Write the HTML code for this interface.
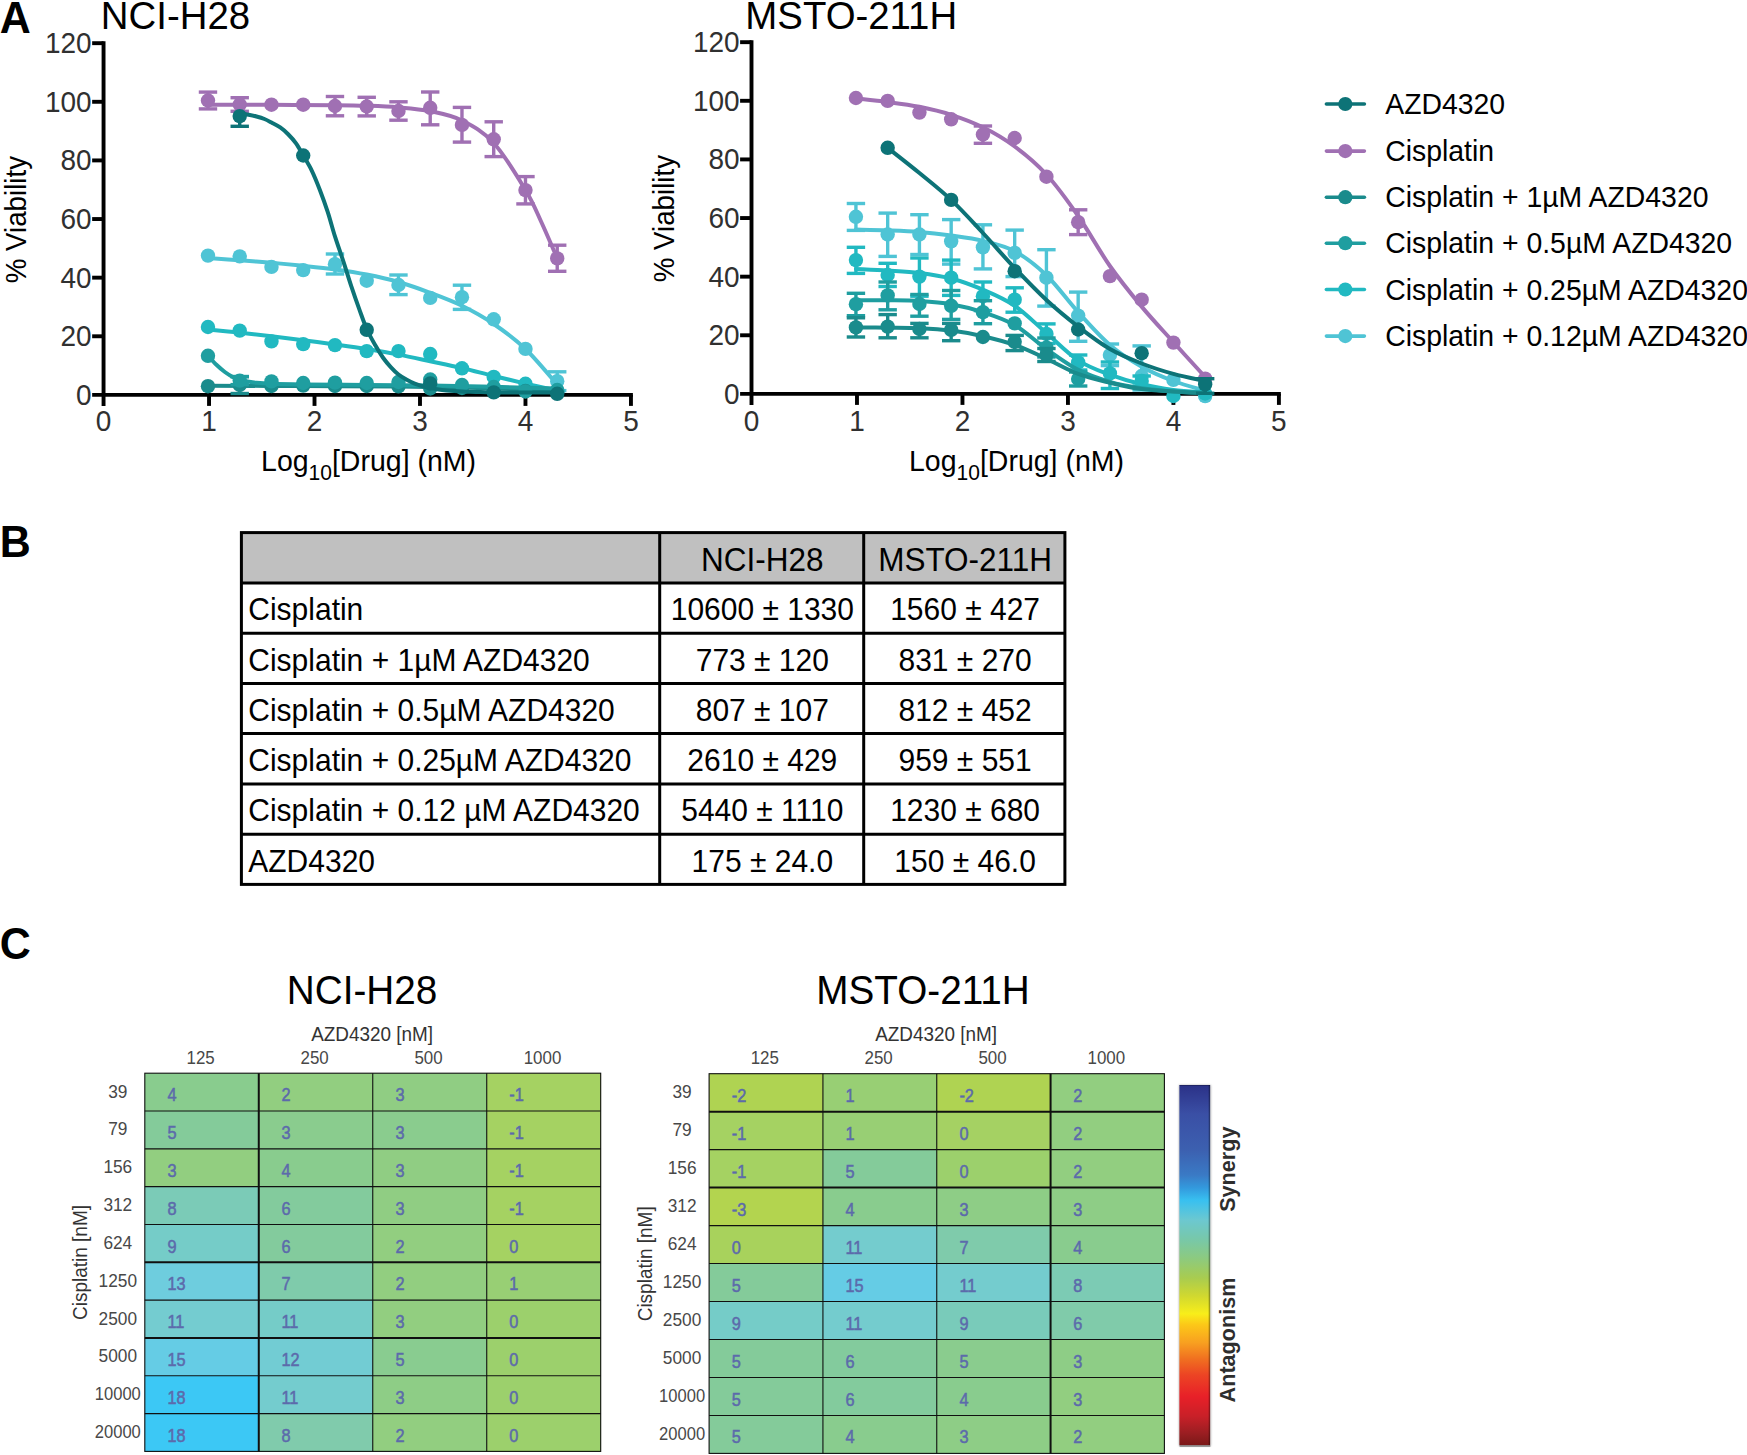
<!DOCTYPE html>
<html lang="en"><head><meta charset="utf-8"><title>Figure</title>
<style>html,body{margin:0;padding:0;background:#fff}svg{display:block}text{white-space:pre}</style>
</head><body>
<svg width="1747" height="1455" viewBox="0 0 1747 1455" font-family='"Liberation Sans", Arial, Helvetica, sans-serif'>
<rect width="1747" height="1455" fill="#fff"/>
<g font-size="43" font-weight="bold" fill="#000">
<text transform="translate(-0.2,33.0) scale(1,1.035)">A</text>
<text transform="translate(-0.3,557.2) scale(1,1.035)">B</text>
<text transform="translate(-0.2,958.6) scale(1,1.035)">C</text>
</g>
<text transform="translate(100.8,28.8) scale(1,1.035)" font-size="38.4" fill="#000">NCI-H28</text>
<g stroke="#000" stroke-width="3.9" fill="none" stroke-linecap="butt">
<path d="M103.55,41.18 V405.90"/>
<path d="M92.15,394.90 H632.90"/>
<path d="M92.15,336.28 H103.55"/>
<path d="M92.15,277.66 H103.55"/>
<path d="M92.15,219.04 H103.55"/>
<path d="M92.15,160.42 H103.55"/>
<path d="M92.15,101.80 H103.55"/>
<path d="M92.15,43.18 H103.55"/>
<path d="M209.03,394.90 V405.90"/>
<path d="M314.51,394.90 V405.90"/>
<path d="M419.99,394.90 V405.90"/>
<path d="M525.47,394.90 V405.90"/>
<path d="M630.95,394.90 V405.90"/>
</g>
<g font-size="28" fill="#303030">
<text transform="translate(91.65,404.90) scale(1,1.035)" text-anchor="end">0</text>
<text transform="translate(91.65,346.28) scale(1,1.035)" text-anchor="end">20</text>
<text transform="translate(91.65,287.66) scale(1,1.035)" text-anchor="end">40</text>
<text transform="translate(91.65,229.04) scale(1,1.035)" text-anchor="end">60</text>
<text transform="translate(91.65,170.42) scale(1,1.035)" text-anchor="end">80</text>
<text transform="translate(91.65,111.80) scale(1,1.035)" text-anchor="end">100</text>
<text transform="translate(91.65,53.18) scale(1,1.035)" text-anchor="end">120</text>
<text transform="translate(103.55,430.9) scale(1,1.035)" text-anchor="middle">0</text>
<text transform="translate(209.03,430.9) scale(1,1.035)" text-anchor="middle">1</text>
<text transform="translate(314.51,430.9) scale(1,1.035)" text-anchor="middle">2</text>
<text transform="translate(419.99,430.9) scale(1,1.035)" text-anchor="middle">3</text>
<text transform="translate(525.47,430.9) scale(1,1.035)" text-anchor="middle">4</text>
<text transform="translate(630.95,430.9) scale(1,1.035)" text-anchor="middle">5</text>
</g>
<text transform="translate(261.05,471.1) scale(1,1.035)" font-size="28.5" fill="#000">Log<tspan font-size="21" dy="8.6">10</tspan><tspan dy="-8.6">[Drug] (nM)</tspan></text>
<text transform="translate(26.0,219.64) scale(1.05,1) rotate(-90)" font-size="27.7" text-anchor="middle" fill="#000">% Viability</text>
<g stroke="#a070b3" fill="#a070b3">
<path d="M207.98,92.10 V108.90" stroke-width="3.4" fill="none"/>
<path d="M198.78,92.10 h18.4" stroke-width="3.4" fill="none"/>
<path d="M198.78,108.90 h18.4" stroke-width="3.4" fill="none"/>
<path d="M239.72,97.70 V111.30" stroke-width="3.4" fill="none"/>
<path d="M230.52,97.70 h18.4" stroke-width="3.4" fill="none"/>
<path d="M230.52,111.30 h18.4" stroke-width="3.4" fill="none"/>
<path d="M334.97,96.50 V115.80" stroke-width="3.4" fill="none"/>
<path d="M325.77,96.50 h18.4" stroke-width="3.4" fill="none"/>
<path d="M325.77,115.80 h18.4" stroke-width="3.4" fill="none"/>
<path d="M366.72,97.30 V115.90" stroke-width="3.4" fill="none"/>
<path d="M357.52,97.30 h18.4" stroke-width="3.4" fill="none"/>
<path d="M357.52,115.90 h18.4" stroke-width="3.4" fill="none"/>
<path d="M398.47,101.80 V120.20" stroke-width="3.4" fill="none"/>
<path d="M389.27,101.80 h18.4" stroke-width="3.4" fill="none"/>
<path d="M389.27,120.20 h18.4" stroke-width="3.4" fill="none"/>
<path d="M430.22,92.00 V124.80" stroke-width="3.4" fill="none"/>
<path d="M421.02,92.00 h18.4" stroke-width="3.4" fill="none"/>
<path d="M421.02,124.80 h18.4" stroke-width="3.4" fill="none"/>
<path d="M461.97,107.40 V142.10" stroke-width="3.4" fill="none"/>
<path d="M452.77,107.40 h18.4" stroke-width="3.4" fill="none"/>
<path d="M452.77,142.10 h18.4" stroke-width="3.4" fill="none"/>
<path d="M493.72,121.80 V156.60" stroke-width="3.4" fill="none"/>
<path d="M484.52,121.80 h18.4" stroke-width="3.4" fill="none"/>
<path d="M484.52,156.60 h18.4" stroke-width="3.4" fill="none"/>
<path d="M525.47,176.60 V203.90" stroke-width="3.4" fill="none"/>
<path d="M516.27,176.60 h18.4" stroke-width="3.4" fill="none"/>
<path d="M516.27,203.90 h18.4" stroke-width="3.4" fill="none"/>
<path d="M557.22,245.20 V271.30" stroke-width="3.4" fill="none"/>
<path d="M548.02,245.20 h18.4" stroke-width="3.4" fill="none"/>
<path d="M548.02,271.30 h18.4" stroke-width="3.4" fill="none"/>
<path d="M207.98,104.70 C218.56,104.72 250.31,104.72 271.47,104.80 C292.64,104.88 319.10,105.03 334.97,105.20 C350.85,105.37 356.14,105.43 366.72,105.80 C377.31,106.17 387.89,106.50 398.47,107.40 C409.06,108.30 419.64,109.02 430.22,111.20 C440.80,113.38 451.39,115.20 461.97,120.50 C472.55,125.80 483.14,131.42 493.72,143.00 C504.30,154.58 517.54,176.83 525.47,190.00 C533.40,203.17 536.00,210.60 541.29,222.00 C546.58,233.40 554.56,252.33 557.22,258.40" stroke-width="4" fill="none" stroke-linecap="round"/>
<circle cx="207.98" cy="100.50" r="7.2" stroke="none"/>
<circle cx="239.72" cy="104.50" r="7.2" stroke="none"/>
<circle cx="271.47" cy="104.70" r="7.2" stroke="none"/>
<circle cx="303.22" cy="104.70" r="7.2" stroke="none"/>
<circle cx="334.97" cy="106.00" r="7.2" stroke="none"/>
<circle cx="366.72" cy="106.50" r="7.2" stroke="none"/>
<circle cx="398.47" cy="111.00" r="7.2" stroke="none"/>
<circle cx="430.22" cy="107.80" r="7.2" stroke="none"/>
<circle cx="461.97" cy="124.90" r="7.2" stroke="none"/>
<circle cx="493.72" cy="139.30" r="7.2" stroke="none"/>
<circle cx="525.47" cy="190.10" r="7.2" stroke="none"/>
<circle cx="557.22" cy="258.40" r="7.2" stroke="none"/>
</g>
<g stroke="#4fc4d5" fill="#4fc4d5">
<path d="M334.97,254.00 V274.00" stroke-width="3.4" fill="none"/>
<path d="M325.77,254.00 h18.4" stroke-width="3.4" fill="none"/>
<path d="M325.77,274.00 h18.4" stroke-width="3.4" fill="none"/>
<path d="M398.47,275.00 V294.60" stroke-width="3.4" fill="none"/>
<path d="M389.27,275.00 h18.4" stroke-width="3.4" fill="none"/>
<path d="M389.27,294.60 h18.4" stroke-width="3.4" fill="none"/>
<path d="M461.97,285.20 V309.40" stroke-width="3.4" fill="none"/>
<path d="M452.77,285.20 h18.4" stroke-width="3.4" fill="none"/>
<path d="M452.77,309.40 h18.4" stroke-width="3.4" fill="none"/>
<path d="M557.22,371.80 V390.60" stroke-width="3.4" fill="none"/>
<path d="M548.02,371.80 h18.4" stroke-width="3.4" fill="none"/>
<path d="M548.02,390.60 h18.4" stroke-width="3.4" fill="none"/>
<path d="M207.98,258.00 C213.27,258.38 229.14,259.50 239.72,260.30 C250.31,261.10 260.89,261.88 271.47,262.80 C282.06,263.72 292.64,264.70 303.22,265.80 C313.81,266.90 324.39,267.95 334.97,269.40 C345.56,270.85 356.14,272.40 366.72,274.50 C377.31,276.60 387.89,278.95 398.47,282.00 C409.06,285.05 419.64,288.83 430.22,292.80 C440.80,296.77 451.39,300.60 461.97,305.80 C472.55,311.00 483.14,316.80 493.72,324.00 C504.30,331.20 514.89,338.92 525.47,349.00 C536.05,359.08 551.93,378.58 557.22,384.50" stroke-width="4" fill="none" stroke-linecap="round"/>
<circle cx="207.98" cy="255.60" r="7.2" stroke="none"/>
<circle cx="239.72" cy="256.40" r="7.2" stroke="none"/>
<circle cx="271.47" cy="266.90" r="7.2" stroke="none"/>
<circle cx="303.22" cy="270.10" r="7.2" stroke="none"/>
<circle cx="334.97" cy="264.20" r="7.2" stroke="none"/>
<circle cx="366.72" cy="280.70" r="7.2" stroke="none"/>
<circle cx="398.47" cy="285.00" r="7.2" stroke="none"/>
<circle cx="430.22" cy="297.90" r="7.2" stroke="none"/>
<circle cx="461.97" cy="297.20" r="7.2" stroke="none"/>
<circle cx="493.72" cy="319.30" r="7.2" stroke="none"/>
<circle cx="525.47" cy="348.90" r="7.2" stroke="none"/>
<circle cx="557.22" cy="381.20" r="7.2" stroke="none"/>
</g>
<g stroke="#21b9c1" fill="#21b9c1">
<path d="M207.98,329.40 C213.27,329.93 229.14,331.47 239.72,332.60 C250.31,333.73 260.89,334.93 271.47,336.20 C282.06,337.47 292.64,338.83 303.22,340.20 C313.81,341.57 324.39,342.93 334.97,344.40 C345.56,345.87 356.14,347.30 366.72,349.00 C377.31,350.70 387.89,352.57 398.47,354.60 C409.06,356.63 419.64,358.97 430.22,361.20 C440.80,363.43 451.39,365.53 461.97,368.00 C472.55,370.47 483.14,373.40 493.72,376.00 C504.30,378.60 514.89,381.15 525.47,383.60 C536.05,386.05 551.93,389.52 557.22,390.70" stroke-width="4" fill="none" stroke-linecap="round"/>
<circle cx="207.98" cy="327.00" r="7.2" stroke="none"/>
<circle cx="239.72" cy="330.60" r="7.2" stroke="none"/>
<circle cx="271.47" cy="341.40" r="7.2" stroke="none"/>
<circle cx="303.22" cy="344.10" r="7.2" stroke="none"/>
<circle cx="334.97" cy="345.10" r="7.2" stroke="none"/>
<circle cx="366.72" cy="351.10" r="7.2" stroke="none"/>
<circle cx="398.47" cy="351.10" r="7.2" stroke="none"/>
<circle cx="430.22" cy="354.00" r="7.2" stroke="none"/>
<circle cx="461.97" cy="368.30" r="7.2" stroke="none"/>
<circle cx="493.72" cy="376.90" r="7.2" stroke="none"/>
<circle cx="525.47" cy="383.80" r="7.2" stroke="none"/>
<circle cx="557.22" cy="391.50" r="7.2" stroke="none"/>
</g>
<g stroke="#1a8b8c" fill="#1a8b8c">
<path d="M239.72,376.60 V393.50" stroke-width="3.4" fill="none"/>
<path d="M230.52,376.60 h18.4" stroke-width="3.4" fill="none"/>
<path d="M230.52,393.50 h18.4" stroke-width="3.4" fill="none"/>
<path d="M207.98,385.80 C223.85,385.83 271.47,385.87 303.22,386.00 C334.97,386.13 372.01,386.33 398.47,386.60 C424.93,386.87 440.80,387.10 461.97,387.60 C483.14,388.10 509.60,389.00 525.47,389.60 C541.34,390.20 551.93,390.93 557.22,391.20" stroke-width="4" fill="none" stroke-linecap="round"/>
<circle cx="207.98" cy="386.20" r="7.2" stroke="none"/>
<circle cx="239.72" cy="385.00" r="7.2" stroke="none"/>
<circle cx="271.47" cy="386.00" r="7.2" stroke="none"/>
<circle cx="303.22" cy="385.60" r="7.2" stroke="none"/>
<circle cx="334.97" cy="386.00" r="7.2" stroke="none"/>
<circle cx="366.72" cy="386.00" r="7.2" stroke="none"/>
<circle cx="398.47" cy="386.40" r="7.2" stroke="none"/>
<circle cx="430.22" cy="388.50" r="7.2" stroke="none"/>
<circle cx="461.97" cy="388.00" r="7.2" stroke="none"/>
<circle cx="493.72" cy="389.50" r="7.2" stroke="none"/>
<circle cx="525.47" cy="391.00" r="7.2" stroke="none"/>
<circle cx="557.22" cy="392.50" r="7.2" stroke="none"/>
</g>
<g stroke="#1f9ea0" fill="#1f9ea0">
<path d="M239.72,376.60 V384.60" stroke-width="3.4" fill="none"/>
<path d="M230.52,376.60 h18.4" stroke-width="3.4" fill="none"/>
<path d="M230.52,384.60 h18.4" stroke-width="3.4" fill="none"/>
<path d="M207.98,355.80 C209.38,357.30 213.60,362.10 216.41,364.80 C219.23,367.50 222.04,369.93 224.85,372.00 C227.66,374.07 230.13,375.73 233.29,377.20 C236.45,378.67 239.97,379.87 243.84,380.80 C247.71,381.73 251.89,382.30 256.50,382.80 C261.10,383.30 263.69,383.53 271.47,383.80 C279.26,384.07 287.35,384.20 303.22,384.40 C319.10,384.60 345.56,384.80 366.72,385.00 C387.89,385.20 409.06,385.30 430.22,385.60 C451.39,385.90 472.55,386.32 493.72,386.80 C514.89,387.28 546.64,388.22 557.22,388.50" stroke-width="4" fill="none" stroke-linecap="round"/>
<circle cx="207.98" cy="355.80" r="7.2" stroke="none"/>
<circle cx="239.72" cy="380.60" r="7.2" stroke="none"/>
<circle cx="271.47" cy="381.40" r="7.2" stroke="none"/>
<circle cx="303.22" cy="383.00" r="7.2" stroke="none"/>
<circle cx="334.97" cy="382.60" r="7.2" stroke="none"/>
<circle cx="366.72" cy="383.00" r="7.2" stroke="none"/>
<circle cx="398.47" cy="382.00" r="7.2" stroke="none"/>
<circle cx="430.22" cy="379.50" r="7.2" stroke="none"/>
<circle cx="461.97" cy="385.00" r="7.2" stroke="none"/>
<circle cx="493.72" cy="387.00" r="7.2" stroke="none"/>
<circle cx="525.47" cy="391.50" r="7.2" stroke="none"/>
<circle cx="557.22" cy="390.00" r="7.2" stroke="none"/>
</g>
<g stroke="#0d7377" fill="#0d7377">
<path d="M239.72,116.10 V126.30" stroke-width="3.4" fill="none"/>
<path d="M230.52,126.30 h18.4" stroke-width="3.4" fill="none"/>
<path d="M239.72,113.49 C241.20,113.70 245.79,114.23 248.58,114.74 C251.38,115.24 253.86,115.80 256.50,116.51 C259.13,117.22 261.91,118.01 264.41,119.02 C266.90,120.03 268.84,121.14 271.47,122.55 C274.11,123.95 277.45,125.52 280.23,127.46 C283.01,129.40 285.50,131.57 288.14,134.22 C290.78,136.86 293.54,139.81 296.05,143.34 C298.56,146.87 300.59,150.81 303.22,155.38 C305.86,159.96 309.11,165.06 311.87,170.78 C314.63,176.51 317.15,182.86 319.78,189.71 C322.42,196.56 325.16,204.10 327.69,211.88 C330.23,219.66 332.34,228.06 334.97,236.40 C337.61,244.73 340.77,253.50 343.52,261.88 C346.26,270.27 348.79,278.79 351.43,286.71 C354.06,294.63 356.79,302.36 359.34,309.41 C361.89,316.46 364.09,323.06 366.72,329.00 C369.36,334.95 372.44,340.29 375.16,345.08 C377.89,349.87 380.44,354.02 383.07,357.74 C385.71,361.45 388.42,364.58 390.98,367.38 C393.55,370.18 395.84,372.48 398.47,374.55 C401.11,376.62 404.10,378.28 406.81,379.78 C409.51,381.28 412.08,382.47 414.72,383.54 C417.35,384.61 420.04,385.46 422.63,386.22 C425.21,386.98 427.58,387.58 430.22,388.12 C432.86,388.66 435.76,389.07 438.45,389.45 C441.14,389.83 443.72,390.12 446.36,390.39 C449.00,390.65 451.67,390.86 454.27,391.04 C456.87,391.23 459.33,391.37 461.97,391.50 C464.61,391.63 467.42,391.73 470.09,391.82 C472.77,391.91 475.37,391.98 478.00,392.04 C480.64,392.11 483.30,392.16 485.92,392.20 C488.53,392.24 491.08,392.28 493.72,392.31 C496.36,392.34 499.08,392.36 501.74,392.38 C504.39,392.40 507.01,392.42 509.65,392.44 C512.28,392.45 514.92,392.46 517.56,392.47 C520.20,392.48 522.83,392.49 525.47,392.50 C528.11,392.50 530.74,392.51 533.38,392.51 C536.02,392.52 538.65,392.52 541.29,392.53 C543.93,392.53 546.55,392.53 549.20,392.54 C551.86,392.54 555.88,392.54 557.22,392.54" stroke-width="4" fill="none" stroke-linecap="round"/>
<circle cx="239.72" cy="116.10" r="7.2" stroke="none"/>
<circle cx="303.22" cy="155.50" r="7.2" stroke="none"/>
<circle cx="366.72" cy="329.80" r="7.2" stroke="none"/>
<circle cx="430.22" cy="383.50" r="7.2" stroke="none"/>
<circle cx="493.72" cy="392.40" r="7.2" stroke="none"/>
<circle cx="557.22" cy="393.80" r="7.2" stroke="none"/>
</g>
<text transform="translate(745.3,28.8) scale(1,1.035)" font-size="38.4" fill="#000">MSTO-211H</text>
<g stroke="#000" stroke-width="3.9" fill="none" stroke-linecap="butt">
<path d="M751.50,40.18 V404.90"/>
<path d="M740.10,393.90 H1280.85"/>
<path d="M740.10,335.28 H751.50"/>
<path d="M740.10,276.66 H751.50"/>
<path d="M740.10,218.04 H751.50"/>
<path d="M740.10,159.42 H751.50"/>
<path d="M740.10,100.80 H751.50"/>
<path d="M740.10,42.18 H751.50"/>
<path d="M856.98,393.90 V404.90"/>
<path d="M962.46,393.90 V404.90"/>
<path d="M1067.94,393.90 V404.90"/>
<path d="M1173.42,393.90 V404.90"/>
<path d="M1278.90,393.90 V404.90"/>
</g>
<g font-size="28" fill="#303030">
<text transform="translate(739.60,403.90) scale(1,1.035)" text-anchor="end">0</text>
<text transform="translate(739.60,345.28) scale(1,1.035)" text-anchor="end">20</text>
<text transform="translate(739.60,286.66) scale(1,1.035)" text-anchor="end">40</text>
<text transform="translate(739.60,228.04) scale(1,1.035)" text-anchor="end">60</text>
<text transform="translate(739.60,169.42) scale(1,1.035)" text-anchor="end">80</text>
<text transform="translate(739.60,110.80) scale(1,1.035)" text-anchor="end">100</text>
<text transform="translate(739.60,52.18) scale(1,1.035)" text-anchor="end">120</text>
<text transform="translate(751.50,430.9) scale(1,1.035)" text-anchor="middle">0</text>
<text transform="translate(856.98,430.9) scale(1,1.035)" text-anchor="middle">1</text>
<text transform="translate(962.46,430.9) scale(1,1.035)" text-anchor="middle">2</text>
<text transform="translate(1067.94,430.9) scale(1,1.035)" text-anchor="middle">3</text>
<text transform="translate(1173.42,430.9) scale(1,1.035)" text-anchor="middle">4</text>
<text transform="translate(1278.90,430.9) scale(1,1.035)" text-anchor="middle">5</text>
</g>
<text transform="translate(909.00,471.1) scale(1,1.035)" font-size="28.5" fill="#000">Log<tspan font-size="21" dy="8.6">10</tspan><tspan dy="-8.6">[Drug] (nM)</tspan></text>
<text transform="translate(673.9,218.64) scale(1.05,1) rotate(-90)" font-size="27.7" text-anchor="middle" fill="#000">% Viability</text>
<g stroke="#a070b3" fill="#a070b3">
<path d="M982.92,126.00 V143.30" stroke-width="3.4" fill="none"/>
<path d="M973.72,126.00 h18.4" stroke-width="3.4" fill="none"/>
<path d="M973.72,143.30 h18.4" stroke-width="3.4" fill="none"/>
<path d="M1078.17,209.80 V234.60" stroke-width="3.4" fill="none"/>
<path d="M1068.97,209.80 h18.4" stroke-width="3.4" fill="none"/>
<path d="M1068.97,234.60 h18.4" stroke-width="3.4" fill="none"/>
<path d="M855.93,98.50 C861.22,99.08 877.09,100.62 887.67,102.00 C898.26,103.38 908.84,104.67 919.42,106.80 C930.01,108.93 940.59,111.38 951.17,114.80 C961.76,118.22 972.34,122.02 982.92,127.30 C993.51,132.58 1004.09,138.63 1014.67,146.50 C1025.26,154.37 1035.84,162.92 1046.42,174.50 C1057.01,186.08 1067.59,200.75 1078.17,216.00 C1088.75,231.25 1099.34,250.90 1109.92,266.00 C1120.50,281.10 1131.09,293.90 1141.67,306.60 C1152.25,319.30 1162.84,330.47 1173.42,342.20 C1184.00,353.93 1199.88,371.20 1205.17,377.00" stroke-width="4" fill="none" stroke-linecap="round"/>
<circle cx="855.93" cy="98.00" r="7.2" stroke="none"/>
<circle cx="887.67" cy="100.90" r="7.2" stroke="none"/>
<circle cx="919.42" cy="112.60" r="7.2" stroke="none"/>
<circle cx="951.17" cy="119.30" r="7.2" stroke="none"/>
<circle cx="982.92" cy="134.50" r="7.2" stroke="none"/>
<circle cx="1014.67" cy="138.00" r="7.2" stroke="none"/>
<circle cx="1046.42" cy="176.70" r="7.2" stroke="none"/>
<circle cx="1078.17" cy="222.20" r="7.2" stroke="none"/>
<circle cx="1109.92" cy="276.10" r="7.2" stroke="none"/>
<circle cx="1141.67" cy="299.70" r="7.2" stroke="none"/>
<circle cx="1173.42" cy="342.60" r="7.2" stroke="none"/>
<circle cx="1205.17" cy="378.70" r="7.2" stroke="none"/>
</g>
<g stroke="#4fc4d5" fill="#4fc4d5">
<path d="M855.93,203.50 V230.40" stroke-width="3.4" fill="none"/>
<path d="M846.73,203.50 h18.4" stroke-width="3.4" fill="none"/>
<path d="M846.73,230.40 h18.4" stroke-width="3.4" fill="none"/>
<path d="M887.67,213.10 V256.40" stroke-width="3.4" fill="none"/>
<path d="M878.47,213.10 h18.4" stroke-width="3.4" fill="none"/>
<path d="M878.47,256.40 h18.4" stroke-width="3.4" fill="none"/>
<path d="M919.42,214.70 V254.50" stroke-width="3.4" fill="none"/>
<path d="M910.22,214.70 h18.4" stroke-width="3.4" fill="none"/>
<path d="M910.22,254.50 h18.4" stroke-width="3.4" fill="none"/>
<path d="M951.17,219.60 V264.10" stroke-width="3.4" fill="none"/>
<path d="M941.97,219.60 h18.4" stroke-width="3.4" fill="none"/>
<path d="M941.97,264.10 h18.4" stroke-width="3.4" fill="none"/>
<path d="M982.92,224.80 V268.90" stroke-width="3.4" fill="none"/>
<path d="M973.72,224.80 h18.4" stroke-width="3.4" fill="none"/>
<path d="M973.72,268.90 h18.4" stroke-width="3.4" fill="none"/>
<path d="M1014.67,230.10 V276.60" stroke-width="3.4" fill="none"/>
<path d="M1005.47,230.10 h18.4" stroke-width="3.4" fill="none"/>
<path d="M1005.47,276.60 h18.4" stroke-width="3.4" fill="none"/>
<path d="M1046.42,249.70 V306.10" stroke-width="3.4" fill="none"/>
<path d="M1037.22,249.70 h18.4" stroke-width="3.4" fill="none"/>
<path d="M1037.22,306.10 h18.4" stroke-width="3.4" fill="none"/>
<path d="M1078.17,292.10 V341.30" stroke-width="3.4" fill="none"/>
<path d="M1068.97,292.10 h18.4" stroke-width="3.4" fill="none"/>
<path d="M1068.97,341.30 h18.4" stroke-width="3.4" fill="none"/>
<path d="M1109.92,344.00 V365.60" stroke-width="3.4" fill="none"/>
<path d="M1100.72,344.00 h18.4" stroke-width="3.4" fill="none"/>
<path d="M1100.72,365.60 h18.4" stroke-width="3.4" fill="none"/>
<path d="M1141.67,345.90 V390.00" stroke-width="3.4" fill="none"/>
<path d="M1132.47,345.90 h18.4" stroke-width="3.4" fill="none"/>
<path d="M1132.47,390.00 h18.4" stroke-width="3.4" fill="none"/>
<path d="M855.93,229.60 C861.22,229.73 877.09,230.00 887.67,230.40 C898.26,230.80 908.84,231.13 919.42,232.00 C930.01,232.87 940.59,234.12 951.17,235.60 C961.76,237.08 972.34,238.28 982.92,240.90 C993.51,243.52 1004.09,245.57 1014.67,251.30 C1025.26,257.03 1035.84,265.15 1046.42,275.30 C1057.01,285.45 1067.59,300.58 1078.17,312.20 C1088.75,323.82 1099.34,335.92 1109.92,345.00 C1120.50,354.08 1131.09,360.70 1141.67,366.70 C1152.25,372.70 1162.84,377.00 1173.42,381.00 C1184.00,385.00 1199.88,389.08 1205.17,390.70" stroke-width="4" fill="none" stroke-linecap="round"/>
<circle cx="855.93" cy="216.80" r="7.2" stroke="none"/>
<circle cx="887.67" cy="234.50" r="7.2" stroke="none"/>
<circle cx="919.42" cy="234.50" r="7.2" stroke="none"/>
<circle cx="951.17" cy="241.30" r="7.2" stroke="none"/>
<circle cx="982.92" cy="247.30" r="7.2" stroke="none"/>
<circle cx="1014.67" cy="252.90" r="7.2" stroke="none"/>
<circle cx="1046.42" cy="277.70" r="7.2" stroke="none"/>
<circle cx="1078.17" cy="315.60" r="7.2" stroke="none"/>
<circle cx="1109.92" cy="355.00" r="7.2" stroke="none"/>
<circle cx="1141.67" cy="376.00" r="7.2" stroke="none"/>
<circle cx="1173.42" cy="379.80" r="7.2" stroke="none"/>
<circle cx="1205.17" cy="396.10" r="7.2" stroke="none"/>
</g>
<g stroke="#21b9c1" fill="#21b9c1">
<path d="M855.93,247.30 V273.40" stroke-width="3.4" fill="none"/>
<path d="M846.73,247.30 h18.4" stroke-width="3.4" fill="none"/>
<path d="M846.73,273.40 h18.4" stroke-width="3.4" fill="none"/>
<path d="M887.67,263.30 V286.50" stroke-width="3.4" fill="none"/>
<path d="M878.47,263.30 h18.4" stroke-width="3.4" fill="none"/>
<path d="M878.47,286.50 h18.4" stroke-width="3.4" fill="none"/>
<path d="M919.42,258.00 V296.20" stroke-width="3.4" fill="none"/>
<path d="M910.22,258.00 h18.4" stroke-width="3.4" fill="none"/>
<path d="M910.22,296.20 h18.4" stroke-width="3.4" fill="none"/>
<path d="M951.17,260.10 V295.40" stroke-width="3.4" fill="none"/>
<path d="M941.97,260.10 h18.4" stroke-width="3.4" fill="none"/>
<path d="M941.97,295.40 h18.4" stroke-width="3.4" fill="none"/>
<path d="M982.92,282.00 V310.60" stroke-width="3.4" fill="none"/>
<path d="M973.72,282.00 h18.4" stroke-width="3.4" fill="none"/>
<path d="M973.72,310.60 h18.4" stroke-width="3.4" fill="none"/>
<path d="M1014.67,287.80 V312.20" stroke-width="3.4" fill="none"/>
<path d="M1005.47,287.80 h18.4" stroke-width="3.4" fill="none"/>
<path d="M1005.47,312.20 h18.4" stroke-width="3.4" fill="none"/>
<path d="M1046.42,323.90 V343.50" stroke-width="3.4" fill="none"/>
<path d="M1037.22,323.90 h18.4" stroke-width="3.4" fill="none"/>
<path d="M1037.22,343.50 h18.4" stroke-width="3.4" fill="none"/>
<path d="M1078.17,355.00 V370.00" stroke-width="3.4" fill="none"/>
<path d="M1068.97,355.00 h18.4" stroke-width="3.4" fill="none"/>
<path d="M1068.97,370.00 h18.4" stroke-width="3.4" fill="none"/>
<path d="M1109.92,362.00 V388.50" stroke-width="3.4" fill="none"/>
<path d="M1100.72,362.00 h18.4" stroke-width="3.4" fill="none"/>
<path d="M1100.72,388.50 h18.4" stroke-width="3.4" fill="none"/>
<path d="M1141.67,376.00 V386.00" stroke-width="3.4" fill="none"/>
<path d="M1132.47,376.00 h18.4" stroke-width="3.4" fill="none"/>
<path d="M1132.47,386.00 h18.4" stroke-width="3.4" fill="none"/>
<path d="M855.93,268.90 C861.22,269.17 877.09,269.83 887.67,270.50 C898.26,271.17 908.84,271.57 919.42,272.90 C930.01,274.23 940.59,275.70 951.17,278.50 C961.76,281.30 972.34,285.15 982.92,289.70 C993.51,294.25 1004.09,298.58 1014.67,305.80 C1025.26,313.02 1035.84,323.92 1046.42,333.00 C1057.01,342.08 1067.59,353.35 1078.17,360.30 C1088.75,367.25 1099.34,370.70 1109.92,374.70 C1120.50,378.70 1131.09,381.77 1141.67,384.30 C1152.25,386.83 1162.84,388.57 1173.42,389.90 C1184.00,391.23 1199.88,391.90 1205.17,392.30" stroke-width="4" fill="none" stroke-linecap="round"/>
<circle cx="855.93" cy="260.10" r="7.2" stroke="none"/>
<circle cx="887.67" cy="275.00" r="7.2" stroke="none"/>
<circle cx="919.42" cy="276.60" r="7.2" stroke="none"/>
<circle cx="951.17" cy="277.70" r="7.2" stroke="none"/>
<circle cx="982.92" cy="296.20" r="7.2" stroke="none"/>
<circle cx="1014.67" cy="299.70" r="7.2" stroke="none"/>
<circle cx="1046.42" cy="333.90" r="7.2" stroke="none"/>
<circle cx="1078.17" cy="362.40" r="7.2" stroke="none"/>
<circle cx="1109.92" cy="373.40" r="7.2" stroke="none"/>
<circle cx="1141.67" cy="381.00" r="7.2" stroke="none"/>
<circle cx="1173.42" cy="396.00" r="7.2" stroke="none"/>
<circle cx="1205.17" cy="393.50" r="7.2" stroke="none"/>
</g>
<g stroke="#1f9ea0" fill="#1f9ea0">
<path d="M855.93,293.30 V315.70" stroke-width="3.4" fill="none"/>
<path d="M846.73,293.30 h18.4" stroke-width="3.4" fill="none"/>
<path d="M846.73,315.70 h18.4" stroke-width="3.4" fill="none"/>
<path d="M887.67,282.00 V309.80" stroke-width="3.4" fill="none"/>
<path d="M878.47,282.00 h18.4" stroke-width="3.4" fill="none"/>
<path d="M878.47,309.80 h18.4" stroke-width="3.4" fill="none"/>
<path d="M919.42,294.50 V316.20" stroke-width="3.4" fill="none"/>
<path d="M910.22,294.50 h18.4" stroke-width="3.4" fill="none"/>
<path d="M910.22,316.20 h18.4" stroke-width="3.4" fill="none"/>
<path d="M951.17,290.50 V319.40" stroke-width="3.4" fill="none"/>
<path d="M941.97,290.50 h18.4" stroke-width="3.4" fill="none"/>
<path d="M941.97,319.40 h18.4" stroke-width="3.4" fill="none"/>
<path d="M982.92,300.70 V323.70" stroke-width="3.4" fill="none"/>
<path d="M973.72,300.70 h18.4" stroke-width="3.4" fill="none"/>
<path d="M973.72,323.70 h18.4" stroke-width="3.4" fill="none"/>
<path d="M1046.42,338.00 V357.00" stroke-width="3.4" fill="none"/>
<path d="M1037.22,338.00 h18.4" stroke-width="3.4" fill="none"/>
<path d="M1037.22,357.00 h18.4" stroke-width="3.4" fill="none"/>
<path d="M1078.17,372.00 V386.00" stroke-width="3.4" fill="none"/>
<path d="M1068.97,372.00 h18.4" stroke-width="3.4" fill="none"/>
<path d="M1068.97,386.00 h18.4" stroke-width="3.4" fill="none"/>
<path d="M855.93,300.20 C861.22,300.22 877.09,300.17 887.67,300.30 C898.26,300.43 908.84,300.35 919.42,301.00 C930.01,301.65 940.59,302.33 951.17,304.20 C961.76,306.07 972.34,308.73 982.92,312.20 C993.51,315.67 1004.09,318.87 1014.67,325.00 C1025.26,331.13 1035.84,341.52 1046.42,349.00 C1057.01,356.48 1067.59,364.42 1078.17,369.90 C1088.75,375.38 1099.34,378.83 1109.92,381.90 C1120.50,384.97 1131.09,386.70 1141.67,388.30 C1152.25,389.90 1162.84,390.70 1173.42,391.50 C1184.00,392.30 1199.88,392.83 1205.17,393.10" stroke-width="4" fill="none" stroke-linecap="round"/>
<circle cx="855.93" cy="304.20" r="7.2" stroke="none"/>
<circle cx="887.67" cy="295.40" r="7.2" stroke="none"/>
<circle cx="919.42" cy="304.00" r="7.2" stroke="none"/>
<circle cx="951.17" cy="305.80" r="7.2" stroke="none"/>
<circle cx="982.92" cy="312.20" r="7.2" stroke="none"/>
<circle cx="1014.67" cy="323.40" r="7.2" stroke="none"/>
<circle cx="1046.42" cy="347.70" r="7.2" stroke="none"/>
<circle cx="1078.17" cy="379.00" r="7.2" stroke="none"/>
</g>
<g stroke="#1a8b8c" fill="#1a8b8c">
<path d="M855.93,317.80 V337.00" stroke-width="3.4" fill="none"/>
<path d="M846.73,317.80 h18.4" stroke-width="3.4" fill="none"/>
<path d="M846.73,337.00 h18.4" stroke-width="3.4" fill="none"/>
<path d="M887.67,314.60 V337.80" stroke-width="3.4" fill="none"/>
<path d="M878.47,314.60 h18.4" stroke-width="3.4" fill="none"/>
<path d="M878.47,337.80 h18.4" stroke-width="3.4" fill="none"/>
<path d="M919.42,323.40 V337.80" stroke-width="3.4" fill="none"/>
<path d="M910.22,323.40 h18.4" stroke-width="3.4" fill="none"/>
<path d="M910.22,337.80 h18.4" stroke-width="3.4" fill="none"/>
<path d="M951.17,323.40 V340.70" stroke-width="3.4" fill="none"/>
<path d="M941.97,323.40 h18.4" stroke-width="3.4" fill="none"/>
<path d="M941.97,340.70 h18.4" stroke-width="3.4" fill="none"/>
<path d="M1014.67,335.40 V350.60" stroke-width="3.4" fill="none"/>
<path d="M1005.47,335.40 h18.4" stroke-width="3.4" fill="none"/>
<path d="M1005.47,350.60 h18.4" stroke-width="3.4" fill="none"/>
<path d="M1046.42,348.50 V361.50" stroke-width="3.4" fill="none"/>
<path d="M1037.22,348.50 h18.4" stroke-width="3.4" fill="none"/>
<path d="M1037.22,361.50 h18.4" stroke-width="3.4" fill="none"/>
<path d="M855.93,327.40 C861.22,327.45 877.09,327.57 887.67,327.70 C898.26,327.83 908.84,327.72 919.42,328.20 C930.01,328.68 940.59,329.27 951.17,330.60 C961.76,331.93 972.34,333.80 982.92,336.20 C993.51,338.60 1004.09,341.25 1014.67,345.00 C1025.26,348.75 1035.84,353.88 1046.42,358.70 C1057.01,363.52 1067.59,369.90 1078.17,373.90 C1088.75,377.90 1099.34,380.17 1109.92,382.70 C1120.50,385.23 1131.09,387.63 1141.67,389.10 C1152.25,390.57 1162.84,390.83 1173.42,391.50 C1184.00,392.17 1199.88,392.83 1205.17,393.10" stroke-width="4" fill="none" stroke-linecap="round"/>
<circle cx="855.93" cy="327.40" r="7.2" stroke="none"/>
<circle cx="887.67" cy="326.60" r="7.2" stroke="none"/>
<circle cx="919.42" cy="329.00" r="7.2" stroke="none"/>
<circle cx="951.17" cy="329.80" r="7.2" stroke="none"/>
<circle cx="982.92" cy="337.00" r="7.2" stroke="none"/>
<circle cx="1014.67" cy="341.80" r="7.2" stroke="none"/>
<circle cx="1046.42" cy="355.00" r="7.2" stroke="none"/>
</g>
<g stroke="#0d7377" fill="#0d7377">
<path d="M1205.17,378.70 V393.30" stroke-width="3.4" fill="none"/>
<path d="M1195.97,378.70 h18.4" stroke-width="3.4" fill="none"/>
<path d="M1195.97,393.30 h18.4" stroke-width="3.4" fill="none"/>
<path d="M887.67,147.80 C892.97,152.00 908.84,164.32 919.42,173.00 C930.01,181.68 940.59,189.90 951.17,199.90 C961.76,209.90 972.34,221.65 982.92,233.00 C993.51,244.35 1004.09,256.83 1014.67,268.00 C1025.26,279.17 1035.84,290.23 1046.42,300.00 C1057.01,309.77 1067.59,318.43 1078.17,326.60 C1088.75,334.77 1099.34,342.85 1109.92,349.00 C1120.50,355.15 1131.09,359.35 1141.67,363.50 C1152.25,367.65 1162.84,370.97 1173.42,373.90 C1184.00,376.83 1199.88,379.90 1205.17,381.10" stroke-width="4" fill="none" stroke-linecap="round"/>
<circle cx="887.67" cy="147.80" r="7.2" stroke="none"/>
<circle cx="951.17" cy="199.90" r="7.2" stroke="none"/>
<circle cx="1014.67" cy="271.20" r="7.2" stroke="none"/>
<circle cx="1078.17" cy="329.50" r="7.2" stroke="none"/>
<circle cx="1141.67" cy="353.20" r="7.2" stroke="none"/>
<circle cx="1205.17" cy="384.30" r="7.2" stroke="none"/>
</g>
<g font-size="28.4" fill="#000">
<path d="M1326.4,104.0 H1364.4" stroke="#0d7377" stroke-width="3.6" stroke-linecap="round"/>
<circle cx="1345.3" cy="104.0" r="7.1" fill="#0d7377"/>
<text transform="translate(1385.2,114.1) scale(1,1.035)">AZD4320</text>
<path d="M1326.4,151.1 H1364.4" stroke="#a070b3" stroke-width="3.6" stroke-linecap="round"/>
<circle cx="1345.3" cy="151.1" r="7.1" fill="#a070b3"/>
<text transform="translate(1385.2,161.2) scale(1,1.035)">Cisplatin</text>
<path d="M1326.4,197.2 H1364.4" stroke="#1a8b8c" stroke-width="3.6" stroke-linecap="round"/>
<circle cx="1345.3" cy="197.2" r="7.1" fill="#1a8b8c"/>
<text transform="translate(1385.2,207.3) scale(1,1.035)">Cisplatin + 1µM AZD4320</text>
<path d="M1326.4,243.2 H1364.4" stroke="#1f9ea0" stroke-width="3.6" stroke-linecap="round"/>
<circle cx="1345.3" cy="243.2" r="7.1" fill="#1f9ea0"/>
<text transform="translate(1385.2,253.3) scale(1,1.035)">Cisplatin + 0.5µM AZD4320</text>
<path d="M1326.4,289.5 H1364.4" stroke="#21b9c1" stroke-width="3.6" stroke-linecap="round"/>
<circle cx="1345.3" cy="289.5" r="7.1" fill="#21b9c1"/>
<text transform="translate(1385.2,299.6) scale(1,1.035)">Cisplatin + 0.25µM AZD4320</text>
<path d="M1326.4,336.1 H1364.4" stroke="#4fc4d5" stroke-width="3.6" stroke-linecap="round"/>
<circle cx="1345.3" cy="336.1" r="7.1" fill="#4fc4d5"/>
<text transform="translate(1385.2,346.2) scale(1,1.035)">Cisplatin + 0.12µM AZD4320</text>
</g>
<rect x="241.4" y="532.6" width="823.5000000000001" height="50.299999999999955" fill="#c0c0c0"/>
<g stroke="#000" stroke-width="3" fill="none">
<rect x="241.4" y="532.6" width="823.5" height="351.8"/>
<path d="M241.4,582.9 H1064.9"/>
<path d="M241.4,633.2 H1064.9"/>
<path d="M241.4,683.4 H1064.9"/>
<path d="M241.4,733.6 H1064.9"/>
<path d="M241.4,783.9 H1064.9"/>
<path d="M241.4,834.2 H1064.9"/>
<path d="M659.7,532.6 V884.4"/>
<path d="M863.7,532.6 V884.4"/>
</g>
<g font-size="30" fill="#000">
<text transform="translate(762.3,570.6) scale(1,1.035)" text-anchor="middle" font-size="31.5">NCI-H28</text>
<text transform="translate(965.1,570.6) scale(1,1.035)" text-anchor="middle" font-size="31.5">MSTO-211H</text>
<text transform="translate(248.3,620.4) scale(1,1.035)">Cisplatin</text>
<text transform="translate(762.3,620.4) scale(1,1.035)" text-anchor="middle">10600 ± 1330</text>
<text transform="translate(965.1,620.4) scale(1,1.035)" text-anchor="middle">1560 ± 427</text>
<text transform="translate(248.3,670.6) scale(1,1.035)">Cisplatin + 1µM AZD4320</text>
<text transform="translate(762.3,670.6) scale(1,1.035)" text-anchor="middle">773 ± 120</text>
<text transform="translate(965.1,670.6) scale(1,1.035)" text-anchor="middle">831 ± 270</text>
<text transform="translate(248.3,720.8) scale(1,1.035)">Cisplatin + 0.5µM AZD4320</text>
<text transform="translate(762.3,720.8) scale(1,1.035)" text-anchor="middle">807 ± 107</text>
<text transform="translate(965.1,720.8) scale(1,1.035)" text-anchor="middle">812 ± 452</text>
<text transform="translate(248.3,771.0) scale(1,1.035)">Cisplatin + 0.25µM AZD4320</text>
<text transform="translate(762.3,771.0) scale(1,1.035)" text-anchor="middle">2610 ± 429</text>
<text transform="translate(965.1,771.0) scale(1,1.035)" text-anchor="middle">959 ± 551</text>
<text transform="translate(248.3,821.3) scale(1,1.035)">Cisplatin + 0.12 µM AZD4320</text>
<text transform="translate(762.3,821.3) scale(1,1.035)" text-anchor="middle">5440 ± 1110</text>
<text transform="translate(965.1,821.3) scale(1,1.035)" text-anchor="middle">1230 ± 680</text>
<text transform="translate(248.3,871.6) scale(1,1.035)">AZD4320</text>
<text transform="translate(762.3,871.6) scale(1,1.035)" text-anchor="middle">175 ± 24.0</text>
<text transform="translate(965.1,871.6) scale(1,1.035)" text-anchor="middle">150 ± 46.0</text>
</g>
<text transform="translate(362.1,1004.3) scale(1,1.035)" font-size="38.7" text-anchor="middle" fill="#000">NCI-H28</text>
<g fill="#333" text-anchor="middle">
<text transform="translate(372.1,1040.8) scale(0.97,1.035)" font-size="19.5">AZD4320 [nM]</text>
<text transform="translate(87.2,1262.5) scale(1.05,1) rotate(-90)" font-size="19">Cisplatin [nM]</text>
</g>
<rect x="144.80" y="1073.20" width="114.28" height="38.12" fill="#89cc8e"/>
<rect x="258.78" y="1073.20" width="114.28" height="38.12" fill="#92ce80"/>
<rect x="372.75" y="1073.20" width="114.28" height="38.12" fill="#90cd83"/>
<rect x="486.73" y="1073.20" width="114.28" height="38.12" fill="#a5d262"/>
<rect x="144.80" y="1111.02" width="114.28" height="38.12" fill="#84cb9a"/>
<rect x="258.78" y="1111.02" width="114.28" height="38.12" fill="#8acc8e"/>
<rect x="372.75" y="1111.02" width="114.28" height="38.12" fill="#8acc8e"/>
<rect x="486.73" y="1111.02" width="114.28" height="38.12" fill="#a5d262"/>
<rect x="144.80" y="1148.84" width="114.28" height="38.12" fill="#92ce80"/>
<rect x="258.78" y="1148.84" width="114.28" height="38.12" fill="#89cc8e"/>
<rect x="372.75" y="1148.84" width="114.28" height="38.12" fill="#90cd83"/>
<rect x="486.73" y="1148.84" width="114.28" height="38.12" fill="#a5d262"/>
<rect x="144.80" y="1186.66" width="114.28" height="38.12" fill="#7bcbb7"/>
<rect x="258.78" y="1186.66" width="114.28" height="38.12" fill="#83cb9d"/>
<rect x="372.75" y="1186.66" width="114.28" height="38.12" fill="#90cd83"/>
<rect x="486.73" y="1186.66" width="114.28" height="38.12" fill="#a5d262"/>
<rect x="144.80" y="1224.48" width="114.28" height="38.12" fill="#75ccc8"/>
<rect x="258.78" y="1224.48" width="114.28" height="38.12" fill="#83cb9d"/>
<rect x="372.75" y="1224.48" width="114.28" height="38.12" fill="#92ce80"/>
<rect x="486.73" y="1224.48" width="114.28" height="38.12" fill="#a5d262"/>
<rect x="144.80" y="1262.30" width="114.28" height="38.12" fill="#6ecdde"/>
<rect x="258.78" y="1262.30" width="114.28" height="38.12" fill="#7fcbab"/>
<rect x="372.75" y="1262.30" width="114.28" height="38.12" fill="#92ce80"/>
<rect x="486.73" y="1262.30" width="114.28" height="38.12" fill="#98cf74"/>
<rect x="144.80" y="1300.12" width="114.28" height="38.12" fill="#74ccd0"/>
<rect x="258.78" y="1300.12" width="114.28" height="38.12" fill="#75ccc8"/>
<rect x="372.75" y="1300.12" width="114.28" height="38.12" fill="#92ce80"/>
<rect x="486.73" y="1300.12" width="114.28" height="38.12" fill="#9cd06c"/>
<rect x="144.80" y="1337.94" width="114.28" height="38.12" fill="#65cce5"/>
<rect x="258.78" y="1337.94" width="114.28" height="38.12" fill="#72ccd3"/>
<rect x="372.75" y="1337.94" width="114.28" height="38.12" fill="#89cc90"/>
<rect x="486.73" y="1337.94" width="114.28" height="38.12" fill="#9cd06c"/>
<rect x="144.80" y="1375.76" width="114.28" height="38.12" fill="#3cc8f5"/>
<rect x="258.78" y="1375.76" width="114.28" height="38.12" fill="#74ccce"/>
<rect x="372.75" y="1375.76" width="114.28" height="38.12" fill="#8ecd86"/>
<rect x="486.73" y="1375.76" width="114.28" height="38.12" fill="#9cd06c"/>
<rect x="144.80" y="1413.58" width="114.28" height="38.12" fill="#3cc8f5"/>
<rect x="258.78" y="1413.58" width="114.28" height="38.12" fill="#80cbac"/>
<rect x="372.75" y="1413.58" width="114.28" height="38.12" fill="#92ce80"/>
<rect x="486.73" y="1413.58" width="114.28" height="38.12" fill="#9cd06c"/>
<g stroke="#101010" stroke-width="1.1" fill="none">
<rect x="144.80" y="1073.20" width="455.90" height="378.20"/>
<path d="M144.80,1111.02 H600.70"/>
<path d="M144.80,1148.84 H600.70"/>
<path d="M144.80,1186.66 H600.70"/>
<path d="M144.80,1224.48 H600.70"/>
<path d="M144.80,1262.30 H600.70" stroke-width="2"/>
<path d="M144.80,1300.12 H600.70"/>
<path d="M144.80,1337.94 H600.70" stroke-width="2"/>
<path d="M144.80,1375.76 H600.70"/>
<path d="M144.80,1413.58 H600.70"/>
<path d="M258.78,1073.20 V1451.40" stroke-width="2"/>
<path d="M372.75,1073.20 V1451.40"/>
<path d="M486.73,1073.20 V1451.40"/>
</g>
<g font-size="17" fill="#5c6aab" stroke="#5c6aab" stroke-width="0.5">
<text transform="translate(167.4,1101.2) scale(0.96,1.035)">4</text>
<text transform="translate(281.4,1101.2) scale(0.96,1.035)">2</text>
<text transform="translate(395.4,1101.2) scale(0.96,1.035)">3</text>
<text transform="translate(509.3,1101.2) scale(0.96,1.035)">-1</text>
<text transform="translate(167.4,1139.0) scale(0.96,1.035)">5</text>
<text transform="translate(281.4,1139.0) scale(0.96,1.035)">3</text>
<text transform="translate(395.4,1139.0) scale(0.96,1.035)">3</text>
<text transform="translate(509.3,1139.0) scale(0.96,1.035)">-1</text>
<text transform="translate(167.4,1176.8) scale(0.96,1.035)">3</text>
<text transform="translate(281.4,1176.8) scale(0.96,1.035)">4</text>
<text transform="translate(395.4,1176.8) scale(0.96,1.035)">3</text>
<text transform="translate(509.3,1176.8) scale(0.96,1.035)">-1</text>
<text transform="translate(167.4,1214.7) scale(0.96,1.035)">8</text>
<text transform="translate(281.4,1214.7) scale(0.96,1.035)">6</text>
<text transform="translate(395.4,1214.7) scale(0.96,1.035)">3</text>
<text transform="translate(509.3,1214.7) scale(0.96,1.035)">-1</text>
<text transform="translate(167.4,1252.5) scale(0.96,1.035)">9</text>
<text transform="translate(281.4,1252.5) scale(0.96,1.035)">6</text>
<text transform="translate(395.4,1252.5) scale(0.96,1.035)">2</text>
<text transform="translate(509.3,1252.5) scale(0.96,1.035)">0</text>
<text transform="translate(167.4,1290.3) scale(0.96,1.035)">13</text>
<text transform="translate(281.4,1290.3) scale(0.96,1.035)">7</text>
<text transform="translate(395.4,1290.3) scale(0.96,1.035)">2</text>
<text transform="translate(509.3,1290.3) scale(0.96,1.035)">1</text>
<text transform="translate(167.4,1328.1) scale(0.96,1.035)">11</text>
<text transform="translate(281.4,1328.1) scale(0.96,1.035)">11</text>
<text transform="translate(395.4,1328.1) scale(0.96,1.035)">3</text>
<text transform="translate(509.3,1328.1) scale(0.96,1.035)">0</text>
<text transform="translate(167.4,1365.9) scale(0.96,1.035)">15</text>
<text transform="translate(281.4,1365.9) scale(0.96,1.035)">12</text>
<text transform="translate(395.4,1365.9) scale(0.96,1.035)">5</text>
<text transform="translate(509.3,1365.9) scale(0.96,1.035)">0</text>
<text transform="translate(167.4,1403.8) scale(0.96,1.035)">18</text>
<text transform="translate(281.4,1403.8) scale(0.96,1.035)">11</text>
<text transform="translate(395.4,1403.8) scale(0.96,1.035)">3</text>
<text transform="translate(509.3,1403.8) scale(0.96,1.035)">0</text>
<text transform="translate(167.4,1441.6) scale(0.96,1.035)">18</text>
<text transform="translate(281.4,1441.6) scale(0.96,1.035)">8</text>
<text transform="translate(395.4,1441.6) scale(0.96,1.035)">2</text>
<text transform="translate(509.3,1441.6) scale(0.96,1.035)">0</text>
</g>
<g font-size="18.2" fill="#484848" text-anchor="middle">
<text transform="translate(117.8,1097.6) scale(0.95,1.035)">39</text>
<text transform="translate(117.8,1135.4) scale(0.95,1.035)">79</text>
<text transform="translate(117.8,1173.2) scale(0.95,1.035)">156</text>
<text transform="translate(117.8,1211.1) scale(0.95,1.035)">312</text>
<text transform="translate(117.8,1248.9) scale(0.95,1.035)">624</text>
<text transform="translate(117.8,1286.7) scale(0.95,1.035)">1250</text>
<text transform="translate(117.8,1324.5) scale(0.95,1.035)">2500</text>
<text transform="translate(117.8,1362.3) scale(0.95,1.035)">5000</text>
<text transform="translate(117.8,1400.2) scale(0.91,1.035)">10000</text>
<text transform="translate(117.8,1438.0) scale(0.91,1.035)">20000</text>
<text transform="translate(200.6,1063.6) scale(0.93,1.035)">125</text>
<text transform="translate(314.6,1063.6) scale(0.93,1.035)">250</text>
<text transform="translate(428.5,1063.6) scale(0.93,1.035)">500</text>
<text transform="translate(542.5,1063.6) scale(0.93,1.035)">1000</text>
</g>
<text transform="translate(923.0,1004.3) scale(1,1.035)" font-size="38.7" text-anchor="middle" fill="#000">MSTO-211H</text>
<g fill="#333" text-anchor="middle">
<text transform="translate(936.1,1040.8) scale(0.97,1.035)" font-size="19.5">AZD4320 [nM]</text>
<text transform="translate(651.5,1263.8) scale(1.05,1) rotate(-90)" font-size="19">Cisplatin [nM]</text>
</g>
<rect x="709.10" y="1073.70" width="114.13" height="38.27" fill="#afd352"/>
<rect x="822.93" y="1073.70" width="114.13" height="38.27" fill="#98cf74"/>
<rect x="936.75" y="1073.70" width="114.13" height="38.27" fill="#afd352"/>
<rect x="1050.58" y="1073.70" width="114.13" height="38.27" fill="#92ce80"/>
<rect x="709.10" y="1111.67" width="114.13" height="38.27" fill="#a5d262"/>
<rect x="822.93" y="1111.67" width="114.13" height="38.27" fill="#98cf74"/>
<rect x="936.75" y="1111.67" width="114.13" height="38.27" fill="#a5d163"/>
<rect x="1050.58" y="1111.67" width="114.13" height="38.27" fill="#92ce80"/>
<rect x="709.10" y="1149.64" width="114.13" height="38.27" fill="#a5d262"/>
<rect x="822.93" y="1149.64" width="114.13" height="38.27" fill="#84cb9a"/>
<rect x="936.75" y="1149.64" width="114.13" height="38.27" fill="#9cd06c"/>
<rect x="1050.58" y="1149.64" width="114.13" height="38.27" fill="#92ce80"/>
<rect x="709.10" y="1187.61" width="114.13" height="38.27" fill="#b3d44f"/>
<rect x="822.93" y="1187.61" width="114.13" height="38.27" fill="#89cc8e"/>
<rect x="936.75" y="1187.61" width="114.13" height="38.27" fill="#8ecd86"/>
<rect x="1050.58" y="1187.61" width="114.13" height="38.27" fill="#8ecd86"/>
<rect x="709.10" y="1225.58" width="114.13" height="38.27" fill="#a8d25c"/>
<rect x="822.93" y="1225.58" width="114.13" height="38.27" fill="#74ccce"/>
<rect x="936.75" y="1225.58" width="114.13" height="38.27" fill="#7fcbab"/>
<rect x="1050.58" y="1225.58" width="114.13" height="38.27" fill="#89cc8e"/>
<rect x="709.10" y="1263.55" width="114.13" height="38.27" fill="#84cb9a"/>
<rect x="822.93" y="1263.55" width="114.13" height="38.27" fill="#65cce5"/>
<rect x="936.75" y="1263.55" width="114.13" height="38.27" fill="#74ccce"/>
<rect x="1050.58" y="1263.55" width="114.13" height="38.27" fill="#7ccbb4"/>
<rect x="709.10" y="1301.52" width="114.13" height="38.27" fill="#75ccc8"/>
<rect x="822.93" y="1301.52" width="114.13" height="38.27" fill="#74ccce"/>
<rect x="936.75" y="1301.52" width="114.13" height="38.27" fill="#79cbba"/>
<rect x="1050.58" y="1301.52" width="114.13" height="38.27" fill="#80cbaa"/>
<rect x="709.10" y="1339.49" width="114.13" height="38.27" fill="#84cb9a"/>
<rect x="822.93" y="1339.49" width="114.13" height="38.27" fill="#83cb9d"/>
<rect x="936.75" y="1339.49" width="114.13" height="38.27" fill="#8acc8e"/>
<rect x="1050.58" y="1339.49" width="114.13" height="38.27" fill="#8ecd86"/>
<rect x="709.10" y="1377.46" width="114.13" height="38.27" fill="#84cb9a"/>
<rect x="822.93" y="1377.46" width="114.13" height="38.27" fill="#83cb9d"/>
<rect x="936.75" y="1377.46" width="114.13" height="38.27" fill="#89cc8e"/>
<rect x="1050.58" y="1377.46" width="114.13" height="38.27" fill="#92ce80"/>
<rect x="709.10" y="1415.43" width="114.13" height="38.27" fill="#84cb9a"/>
<rect x="822.93" y="1415.43" width="114.13" height="38.27" fill="#89cc8e"/>
<rect x="936.75" y="1415.43" width="114.13" height="38.27" fill="#8ecd86"/>
<rect x="1050.58" y="1415.43" width="114.13" height="38.27" fill="#92ce80"/>
<g stroke="#101010" stroke-width="1.1" fill="none">
<rect x="709.10" y="1073.70" width="455.30" height="379.70"/>
<path d="M709.10,1111.67 H1164.40" stroke-width="2"/>
<path d="M709.10,1149.64 H1164.40"/>
<path d="M709.10,1187.61 H1164.40" stroke-width="2"/>
<path d="M709.10,1225.58 H1164.40"/>
<path d="M709.10,1263.55 H1164.40"/>
<path d="M709.10,1301.52 H1164.40"/>
<path d="M709.10,1339.49 H1164.40"/>
<path d="M709.10,1377.46 H1164.40"/>
<path d="M709.10,1415.43 H1164.40"/>
<path d="M822.93,1073.70 V1453.40"/>
<path d="M936.75,1073.70 V1453.40"/>
<path d="M1050.58,1073.70 V1453.40" stroke-width="2"/>
</g>
<g font-size="17" fill="#5c6aab" stroke="#5c6aab" stroke-width="0.5">
<text transform="translate(731.7,1101.7) scale(0.96,1.035)">-2</text>
<text transform="translate(845.5,1101.7) scale(0.96,1.035)">1</text>
<text transform="translate(959.4,1101.7) scale(0.96,1.035)">-2</text>
<text transform="translate(1073.2,1101.7) scale(0.96,1.035)">2</text>
<text transform="translate(731.7,1139.7) scale(0.96,1.035)">-1</text>
<text transform="translate(845.5,1139.7) scale(0.96,1.035)">1</text>
<text transform="translate(959.4,1139.7) scale(0.96,1.035)">0</text>
<text transform="translate(1073.2,1139.7) scale(0.96,1.035)">2</text>
<text transform="translate(731.7,1177.6) scale(0.96,1.035)">-1</text>
<text transform="translate(845.5,1177.6) scale(0.96,1.035)">5</text>
<text transform="translate(959.4,1177.6) scale(0.96,1.035)">0</text>
<text transform="translate(1073.2,1177.6) scale(0.96,1.035)">2</text>
<text transform="translate(731.7,1215.6) scale(0.96,1.035)">-3</text>
<text transform="translate(845.5,1215.6) scale(0.96,1.035)">4</text>
<text transform="translate(959.4,1215.6) scale(0.96,1.035)">3</text>
<text transform="translate(1073.2,1215.6) scale(0.96,1.035)">3</text>
<text transform="translate(731.7,1253.6) scale(0.96,1.035)">0</text>
<text transform="translate(845.5,1253.6) scale(0.96,1.035)">11</text>
<text transform="translate(959.4,1253.6) scale(0.96,1.035)">7</text>
<text transform="translate(1073.2,1253.6) scale(0.96,1.035)">4</text>
<text transform="translate(731.7,1291.6) scale(0.96,1.035)">5</text>
<text transform="translate(845.5,1291.6) scale(0.96,1.035)">15</text>
<text transform="translate(959.4,1291.6) scale(0.96,1.035)">11</text>
<text transform="translate(1073.2,1291.6) scale(0.96,1.035)">8</text>
<text transform="translate(731.7,1329.5) scale(0.96,1.035)">9</text>
<text transform="translate(845.5,1329.5) scale(0.96,1.035)">11</text>
<text transform="translate(959.4,1329.5) scale(0.96,1.035)">9</text>
<text transform="translate(1073.2,1329.5) scale(0.96,1.035)">6</text>
<text transform="translate(731.7,1367.5) scale(0.96,1.035)">5</text>
<text transform="translate(845.5,1367.5) scale(0.96,1.035)">6</text>
<text transform="translate(959.4,1367.5) scale(0.96,1.035)">5</text>
<text transform="translate(1073.2,1367.5) scale(0.96,1.035)">3</text>
<text transform="translate(731.7,1405.5) scale(0.96,1.035)">5</text>
<text transform="translate(845.5,1405.5) scale(0.96,1.035)">6</text>
<text transform="translate(959.4,1405.5) scale(0.96,1.035)">4</text>
<text transform="translate(1073.2,1405.5) scale(0.96,1.035)">3</text>
<text transform="translate(731.7,1443.4) scale(0.96,1.035)">5</text>
<text transform="translate(845.5,1443.4) scale(0.96,1.035)">4</text>
<text transform="translate(959.4,1443.4) scale(0.96,1.035)">3</text>
<text transform="translate(1073.2,1443.4) scale(0.96,1.035)">2</text>
</g>
<g font-size="18.2" fill="#484848" text-anchor="middle">
<text transform="translate(682.1,1098.1) scale(0.95,1.035)">39</text>
<text transform="translate(682.1,1136.1) scale(0.95,1.035)">79</text>
<text transform="translate(682.1,1174.0) scale(0.95,1.035)">156</text>
<text transform="translate(682.1,1212.0) scale(0.95,1.035)">312</text>
<text transform="translate(682.1,1250.0) scale(0.95,1.035)">624</text>
<text transform="translate(682.1,1288.0) scale(0.95,1.035)">1250</text>
<text transform="translate(682.1,1325.9) scale(0.95,1.035)">2500</text>
<text transform="translate(682.1,1363.9) scale(0.95,1.035)">5000</text>
<text transform="translate(682.1,1401.9) scale(0.91,1.035)">10000</text>
<text transform="translate(682.1,1439.8) scale(0.91,1.035)">20000</text>
<text transform="translate(764.8,1063.6) scale(0.93,1.035)">125</text>
<text transform="translate(878.6,1063.6) scale(0.93,1.035)">250</text>
<text transform="translate(992.5,1063.6) scale(0.93,1.035)">500</text>
<text transform="translate(1106.3,1063.6) scale(0.93,1.035)">1000</text>
</g>
<defs><linearGradient id="cb" x1="0" y1="0" x2="0" y2="1">
<stop offset="0.0" stop-color="#2b3187"/>
<stop offset="0.08" stop-color="#3a4fa5"/>
<stop offset="0.18" stop-color="#3c60b0"/>
<stop offset="0.25" stop-color="#3a7ac5"/>
<stop offset="0.285" stop-color="#3399dd"/>
<stop offset="0.32" stop-color="#38c0f0"/>
<stop offset="0.375" stop-color="#6cc8d0"/>
<stop offset="0.43" stop-color="#78c8a8"/>
<stop offset="0.48" stop-color="#8cca80"/>
<stop offset="0.535" stop-color="#a8cc50"/>
<stop offset="0.585" stop-color="#d0d830"/>
<stop offset="0.635" stop-color="#f8ee1a"/>
<stop offset="0.665" stop-color="#fcc818"/>
<stop offset="0.715" stop-color="#f8a020"/>
<stop offset="0.76" stop-color="#f07020"/>
<stop offset="0.805" stop-color="#ec4424"/>
<stop offset="0.865" stop-color="#e82028"/>
<stop offset="0.92" stop-color="#c82028"/>
<stop offset="0.965" stop-color="#9c1e22"/>
<stop offset="1.0" stop-color="#7a1818"/>
</linearGradient><filter id="sh" x="-20%" y="-5%" width="140%" height="110%"><feGaussianBlur stdDeviation="0.9"/></filter></defs>
<rect x="1179.0" y="1085" width="31.8" height="361" fill="#000" opacity="0.3" filter="url(#sh)"/>
<rect x="1179.4" y="1085" width="30.7" height="360.3" fill="url(#cb)"/>
<rect x="1208.7" y="1085" width="1.4" height="360.3" fill="#000" opacity="0.32"/>
<rect x="1179.4" y="1085" width="30.7" height="1" fill="#000" opacity="0.25"/>
<rect x="1179.6" y="1445.3" width="30.8" height="1.5" fill="#777" opacity="0.85"/>
<g font-size="21.6" font-weight="bold" fill="#2e2e2e" text-anchor="middle">
<text transform="translate(1235.2,1169.2) rotate(-90)">Synergy</text>
<text transform="translate(1235.2,1340) rotate(-90)">Antagonism</text>
</g>
</svg>
</body></html>
